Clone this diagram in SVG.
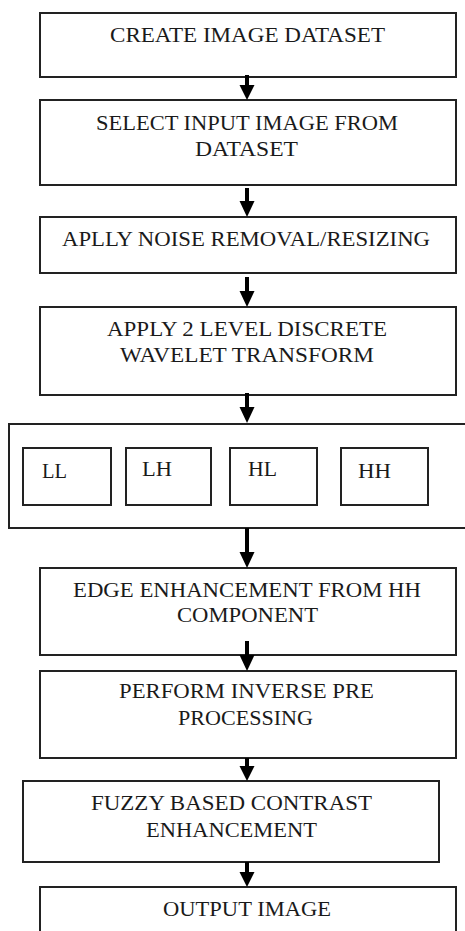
<svg xmlns="http://www.w3.org/2000/svg" width="465" height="931" viewBox="0 0 465 931">
<defs>
<style>
.b{fill:#fff;stroke:#222;stroke-width:2}
.t{font-family:"Liberation Serif","Times New Roman",serif;font-size:21px;fill:#1a1a1a;text-anchor:middle}
.s{font-family:"Liberation Serif","Times New Roman",serif;font-size:21px;fill:#1a1a1a}
.ln{stroke:#000;stroke-width:4;fill:none}
.hd{fill:#000}
</style>
</defs>
<rect width="465" height="931" fill="#fff"/>
<g id="n1"><rect class="b" x="40" y="13" width="416" height="64"/><text class="t" x="247.5" y="42" textLength="275" lengthAdjust="spacingAndGlyphs">CREATE IMAGE DATASET</text></g>
<g id="n2"><rect class="b" x="40" y="100" width="416" height="85"/><text class="t" x="247" y="130" textLength="302" lengthAdjust="spacingAndGlyphs">SELECT INPUT IMAGE FROM</text><text class="t" x="246.5" y="156" textLength="103" lengthAdjust="spacingAndGlyphs">DATASET</text></g>
<g id="n3"><rect class="b" x="40" y="217" width="416" height="56"/><text class="t" x="246" y="246" textLength="368" lengthAdjust="spacingAndGlyphs">APLLY NOISE REMOVAL/RESIZING</text></g>
<g id="n4"><rect class="b" x="40" y="307" width="416" height="88"/><text class="t" x="247" y="336" textLength="280" lengthAdjust="spacingAndGlyphs">APPLY 2 LEVEL DISCRETE</text><text class="t" x="247" y="362" textLength="254" lengthAdjust="spacingAndGlyphs">WAVELET TRANSFORM</text></g>
<g id="n5"><rect class="b" x="9" y="424" width="470" height="104"/>
<g id="n5a"><rect class="b" x="23" y="448" width="88" height="57"/><text class="s" x="42" y="478" textLength="25" lengthAdjust="spacingAndGlyphs">LL</text></g>
<g id="n5b"><rect class="b" x="126" y="448" width="85" height="57"/><text class="s" x="142" y="476" textLength="30" lengthAdjust="spacingAndGlyphs">LH</text></g>
<g id="n5c"><rect class="b" x="230" y="448" width="87" height="57"/><text class="s" x="248" y="476" textLength="29" lengthAdjust="spacingAndGlyphs">HL</text></g>
<g id="n5d"><rect class="b" x="341" y="448" width="87" height="57"/><text class="s" x="358" y="478" textLength="33" lengthAdjust="spacingAndGlyphs">HH</text></g>
</g>
<g id="n6"><rect class="b" x="40" y="568" width="416" height="87"/><text class="t" x="247" y="597" textLength="348" lengthAdjust="spacingAndGlyphs">EDGE ENHANCEMENT FROM HH</text><text class="t" x="247.5" y="622" textLength="141" lengthAdjust="spacingAndGlyphs">COMPONENT</text></g>
<g id="n7"><rect class="b" x="40" y="671" width="416" height="87"/><text class="t" x="246.5" y="698" textLength="255" lengthAdjust="spacingAndGlyphs">PERFORM INVERSE PRE</text><text class="t" x="245.5" y="725" textLength="135" lengthAdjust="spacingAndGlyphs">PROCESSING</text></g>
<g id="n8"><rect class="b" x="23" y="781" width="416" height="81"/><text class="t" x="231.5" y="810" textLength="281" lengthAdjust="spacingAndGlyphs">FUZZY BASED CONTRAST</text><text class="t" x="231.5" y="837" textLength="171" lengthAdjust="spacingAndGlyphs">ENHANCEMENT</text></g>
<g id="n9"><rect class="b" x="40" y="887" width="416" height="60"/><text class="t" x="247" y="916" textLength="168" lengthAdjust="spacingAndGlyphs">OUTPUT IMAGE</text></g>
<g id="connectors">
<line class="ln" x1="247" y1="75" x2="247" y2="88"/><polygon class="hd" points="239.5,85 254.5,85 247,100"/>
<line class="ln" x1="247" y1="188" x2="247" y2="204"/><polygon class="hd" points="239.5,201 254.5,201 247,217"/>
<line class="ln" x1="247" y1="277" x2="247" y2="294"/><polygon class="hd" points="239.5,291 254.5,291 247,307"/>
<line class="ln" x1="247" y1="393" x2="247" y2="410"/><polygon class="hd" points="239.5,407 254.5,407 247,423"/>
<line class="ln" x1="247" y1="528" x2="247" y2="555"/><polygon class="hd" points="239.5,552 254.5,552 247,568"/>
<line class="ln" x1="247" y1="641" x2="247" y2="658"/><polygon class="hd" points="239.5,655 254.5,655 247,671"/>
<line class="ln" x1="247" y1="758" x2="247" y2="769"/><polygon class="hd" points="239.5,766 254.5,766 247,781"/>
<line class="ln" x1="247" y1="862" x2="247" y2="875"/><polygon class="hd" points="239.5,872 254.5,872 247,887"/>
</g>
</svg>
